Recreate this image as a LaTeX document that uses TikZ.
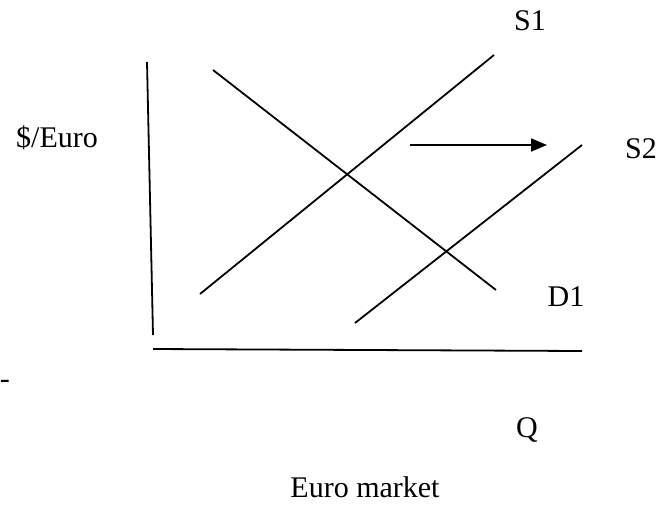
\documentclass[tikz,border=0pt]{standalone}
\usepackage{fontspec}
\setmainfont{Liberation Serif}
\usetikzlibrary{arrows.meta}
\begin{document}
\begin{tikzpicture}[x=1pt, y=-1pt, line width=1.8pt, font=\fontsize{30}{36}\selectfont,
  lbl/.style={inner sep=0pt, anchor=base}]
\useasboundingbox (0,0) rectangle (671,504);
% axes
\coordinate (ytop) at (147,62); \coordinate (ybot) at (153,335);
\coordinate (xl) at (153,349); \coordinate (xr) at (582,351);
\draw (ytop) -- (ybot);
\draw (xl) -- (xr);
% demand and supply curves
\coordinate (d1a) at (213,70); \coordinate (d1b) at (496,290);
\coordinate (s1a) at (200,294); \coordinate (s1b) at (494,55);
\coordinate (s2a) at (355,323); \coordinate (s2b) at (582,145);
\draw (d1a) -- (d1b);
\draw (s1a) -- (s1b);
\draw (s2a) -- (s2b);
% shift arrow
\coordinate (shfrom) at (410,145); \coordinate (shto) at (547,145);
\draw[-{Triangle[length=16pt,width=13pt]}] (shfrom) -- (shto);
% labels
\node[lbl] (s1) at (530,30) {S1};
\node[lbl] (s2) at (641,158) {S2};
\node[lbl] (d1) at (566,306) {D1};
\node[lbl] (price) at (57,147) {\$/Euro};
\node[lbl] (q) at (527,437) {Q};
\node[lbl] (title) at (365,497) {Euro market};
\node[lbl, anchor=base west] (dash) at (-1,388) {-};
\end{tikzpicture}
\end{document}
